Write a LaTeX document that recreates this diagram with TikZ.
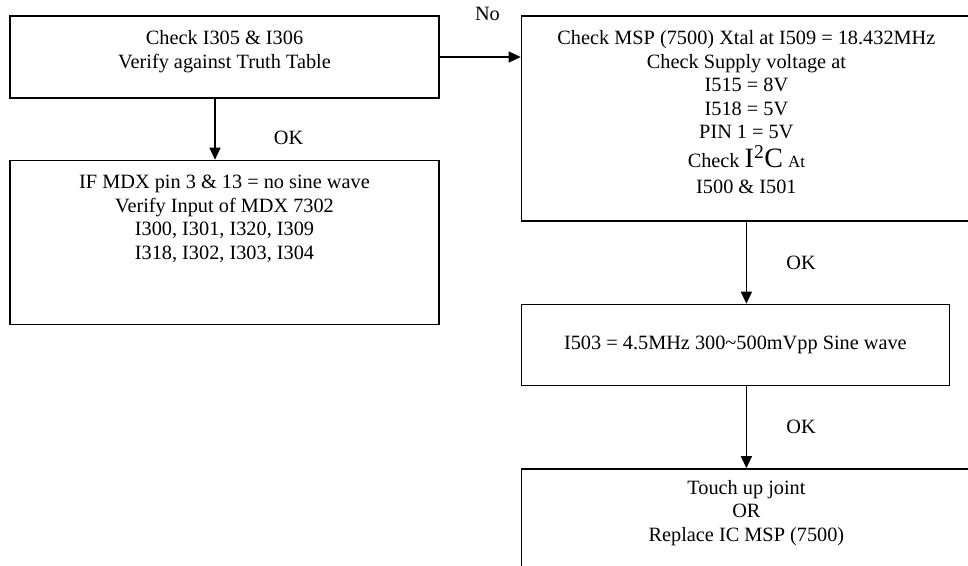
\documentclass[tikz,border=0pt]{standalone}
\usepackage{fontspec}
\setmainfont{Liberation Serif}
\usetikzlibrary{arrows.meta,positioning}

\begin{document}
\begin{tikzpicture}[
    x=1pt, y=-1pt,
    font=\fontsize{20.3pt}{23.6pt}\selectfont,
    flowbox/.style={draw, line width=1.4pt, inner sep=0pt, align=center},
    boxtext/.style={anchor=north, yshift=-15pt, inner sep=0pt, align=center},
    arrow/.style={-{Triangle[length=12pt, width=11pt]}, line width=1.3pt}
  ]
    \clip (0,0) rectangle (968,565);
    \node[flowbox, minimum width=429pt, minimum height=82pt,
      label={[boxtext]north:{Check I305 \& I306\\Verify against Truth Table}}] (check) at (224.5,57) {};
    \node[flowbox, minimum width=429pt, minimum height=164pt, below=61pt of check,
      label={[boxtext]north:{IF MDX pin 3 \& 13 = no sine wave\\Verify Input of MDX 7302\\I300, I301, I320, I309\\I318, I302, I303, I304}}] (mdx) {};
    \node[flowbox, minimum width=450pt, minimum height=205pt, right=81pt of check.north east, anchor=north west,
      label={[boxtext]north:{Check MSP (7500) Xtal at I509 = 18.432MHz\\Check Supply voltage at\\I515 = 8V\\I518 = 5V\\PIN 1 = 5V\\[5pt]Check {\fontsize{28pt}{30pt}\selectfont I\textsuperscript{2}C} {\fontsize{17pt}{20pt}\selectfont At}\\[2pt]I500 \& I501}}] (msp) {};
    \node[flowbox, minimum width=428pt, minimum height=81pt, below=82pt of msp.south west, anchor=north west] (sine) {I503 = 4.5MHz 300\textasciitilde500mVpp Sine wave};
    \node[flowbox, minimum width=450pt, minimum height=130pt, below=82pt of sine.south west, anchor=north west,
      label={[boxtext, yshift=3pt]north:{Touch up joint\\OR\\Replace IC MSP (7500)}}] (fix) {};
    \draw[arrow] ([xshift=-9.5pt]check.south) -- node[pos=0.64, right=55pt] (ok1) {OK} ([xshift=-9.5pt]mdx.north);
    \draw[arrow] (check.east) -- node[pos=0.59, above=32pt] (no) {No} (check.east -| msp.west);
    \draw[arrow] (msp.south) -- node[midway, right=36pt] (ok2) {OK} (msp.south |- sine.north);
    \draw[arrow] (msp.south |- sine.south) -- node[midway, right=36pt] (ok3) {OK} (msp.south |- fix.north);
  \end{tikzpicture}
\end{document}
